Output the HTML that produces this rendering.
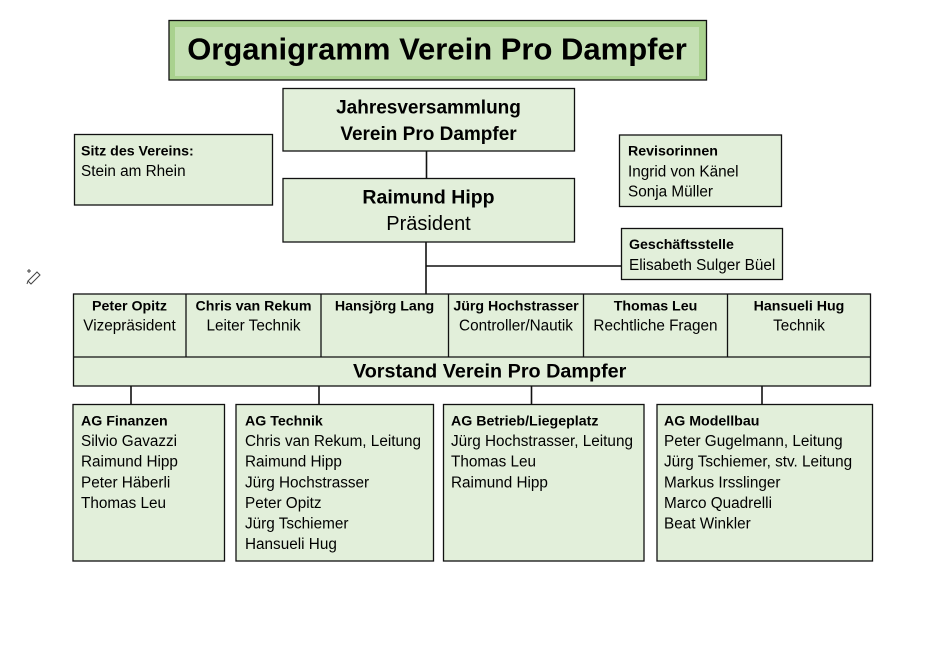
<!DOCTYPE html>
<html>
<head>
<meta charset="utf-8">
<style>
  html,body{margin:0;padding:0;background:#fff;}
  svg{display:block;}
  text{font-family:"Liberation Sans",Arial,sans-serif;fill:#000;}
  .b{font-weight:bold;font-size:14.2px;}
  .r{font-size:15.3px;}
</style>
</head>
<body>
<svg width="940" height="658" viewBox="0 0 940 658" xmlns="http://www.w3.org/2000/svg">
  <rect x="0" y="0" width="940" height="658" fill="#fff"/>

  <!-- Title -->
  <rect x="169" y="20.5" width="537.5" height="59.5" fill="#a9d18e" stroke="#111" stroke-width="1.3"/>
  <rect x="175" y="27" width="524" height="49" fill="#c5e0b4"/>
  <text x="437" y="59.5" text-anchor="middle" style="font-weight:bold;font-size:31px;">Organigramm Verein Pro Dampfer</text>

  <!-- Connectors -->
  <g stroke="#111" stroke-width="1.6" fill="none">
    <line x1="426.5" y1="151" x2="426.5" y2="178.5"/>
    <line x1="426" y1="242" x2="426" y2="294"/>
    <line x1="426" y1="266" x2="621" y2="266"/>
    <line x1="131" y1="386" x2="131" y2="404.5"/>
    <line x1="319" y1="386" x2="319" y2="404.5"/>
    <line x1="531.5" y1="386" x2="531.5" y2="404.5"/>
    <line x1="762" y1="386" x2="762" y2="404.5"/>
  </g>

  <!-- Boxes -->
  <g fill="#e2efda" stroke="#111" stroke-width="1.3">
    <rect x="283" y="88.5" width="291.5" height="62.5"/>
    <rect x="283" y="178.5" width="291.5" height="63.5"/>
    <rect x="74.5" y="134.5" width="198" height="70.5"/>
    <rect x="619.5" y="135" width="162" height="71.5"/>
    <rect x="621.5" y="228.5" width="161" height="51"/>
    <rect x="73.5" y="294" width="797" height="92"/>
    <rect x="73" y="404.5" width="151.5" height="156.5"/>
    <rect x="236" y="404.5" width="197.5" height="156.5"/>
    <rect x="443.5" y="404.5" width="200.5" height="156.5"/>
    <rect x="657" y="404.5" width="215.5" height="156.5"/>
  </g>
  <g stroke="#111" stroke-width="1.3">
    <line x1="73.5" y1="357" x2="870.5" y2="357"/>
    <line x1="186" y1="294" x2="186" y2="357"/>
    <line x1="321" y1="294" x2="321" y2="357"/>
    <line x1="448.5" y1="294" x2="448.5" y2="357"/>
    <line x1="583.5" y1="294" x2="583.5" y2="357"/>
    <line x1="727.5" y1="294" x2="727.5" y2="357"/>
  </g>

  <!-- Jahresversammlung -->
  <text x="428.5" y="113.5" text-anchor="middle" style="font-weight:bold;font-size:19px;">Jahresversammlung</text>
  <text x="428.5" y="140" text-anchor="middle" style="font-weight:bold;font-size:19px;">Verein Pro Dampfer</text>

  <!-- President -->
  <text x="428.5" y="203.5" text-anchor="middle" style="font-weight:bold;font-size:19.5px;">Raimund Hipp</text>
  <text x="428.5" y="230" text-anchor="middle" style="font-size:20px;">Präsident</text>

  <!-- Sitz -->
  <text class="b" x="81" y="155.5">Sitz des Vereins:</text>
  <text class="r" x="81" y="176">Stein am Rhein</text>

  <!-- Revisorinnen -->
  <text class="b" x="628" y="155.5">Revisorinnen</text>
  <text class="r" x="628" y="176.5">Ingrid von Känel</text>
  <text class="r" x="628" y="196.5">Sonja Müller</text>

  <!-- Geschäftsstelle -->
  <text class="b" x="629" y="249">Geschäftsstelle</text>
  <text class="r" x="629" y="270">Elisabeth Sulger Büel</text>

  <!-- Vorstand table -->
  <text class="b" x="129.5" y="310.5" text-anchor="middle">Peter Opitz</text>
  <text class="r" x="129.5" y="330.5" text-anchor="middle">Vizepräsident</text>
  <text class="b" x="253.5" y="310.5" text-anchor="middle">Chris van Rekum</text>
  <text class="r" x="253.5" y="330.5" text-anchor="middle">Leiter Technik</text>
  <text class="b" x="384.5" y="310.5" text-anchor="middle">Hansjörg Lang</text>
  <text class="b" x="516" y="310.5" text-anchor="middle">Jürg Hochstrasser</text>
  <text class="r" x="516" y="330.5" text-anchor="middle">Controller/Nautik</text>
  <text class="b" x="655.5" y="310.5" text-anchor="middle">Thomas Leu</text>
  <text class="r" x="655.5" y="330.5" text-anchor="middle">Rechtliche Fragen</text>
  <text class="b" x="799" y="310.5" text-anchor="middle">Hansueli Hug</text>
  <text class="r" x="799" y="330.5" text-anchor="middle">Technik</text>
  <text x="353" y="377.5" style="font-weight:bold;font-size:19.8px;">Vorstand Verein Pro Dampfer</text>

  <!-- AG Finanzen -->
  <text class="b" x="81" y="425.5">AG Finanzen</text>
  <text class="r" x="81" y="446">Silvio Gavazzi</text>
  <text class="r" x="81" y="466.7">Raimund Hipp</text>
  <text class="r" x="81" y="487.3">Peter Häberli</text>
  <text class="r" x="81" y="508">Thomas Leu</text>

  <!-- AG Technik -->
  <text class="b" x="245" y="425.5">AG Technik</text>
  <text class="r" x="245" y="446">Chris van Rekum, Leitung</text>
  <text class="r" x="245" y="466.7">Raimund Hipp</text>
  <text class="r" x="245" y="487.3">Jürg Hochstrasser</text>
  <text class="r" x="245" y="508">Peter Opitz</text>
  <text class="r" x="245" y="528.6">Jürg Tschiemer</text>
  <text class="r" x="245" y="549.2">Hansueli Hug</text>

  <!-- AG Betrieb -->
  <text class="b" x="451" y="425.5">AG Betrieb/Liegeplatz</text>
  <text class="r" x="451" y="446">Jürg Hochstrasser, Leitung</text>
  <text class="r" x="451" y="466.7">Thomas Leu</text>
  <text class="r" x="451" y="487.3">Raimund Hipp</text>

  <!-- AG Modellbau -->
  <text class="b" x="664" y="425.5">AG Modellbau</text>
  <text class="r" x="664" y="446">Peter Gugelmann, Leitung</text>
  <text class="r" x="664" y="466.7">Jürg Tschiemer, stv. Leitung</text>
  <text class="r" x="664" y="487.3">Markus Irsslinger</text>
  <text class="r" x="664" y="508">Marco Quadrelli</text>
  <text class="r" x="664" y="528.6">Beat Winkler</text>

  <!-- small wand icon -->
  <g stroke="#444" stroke-width="1" fill="none">
    <path d="M28 281 L37 272 L40 275 L31 284 Z"/>
    <line x1="28" y1="281" x2="27" y2="284"/>
    <path d="M29 269 L29 273 M27 271 L31 271"/>
  </g>
</svg>
</body>
</html>
